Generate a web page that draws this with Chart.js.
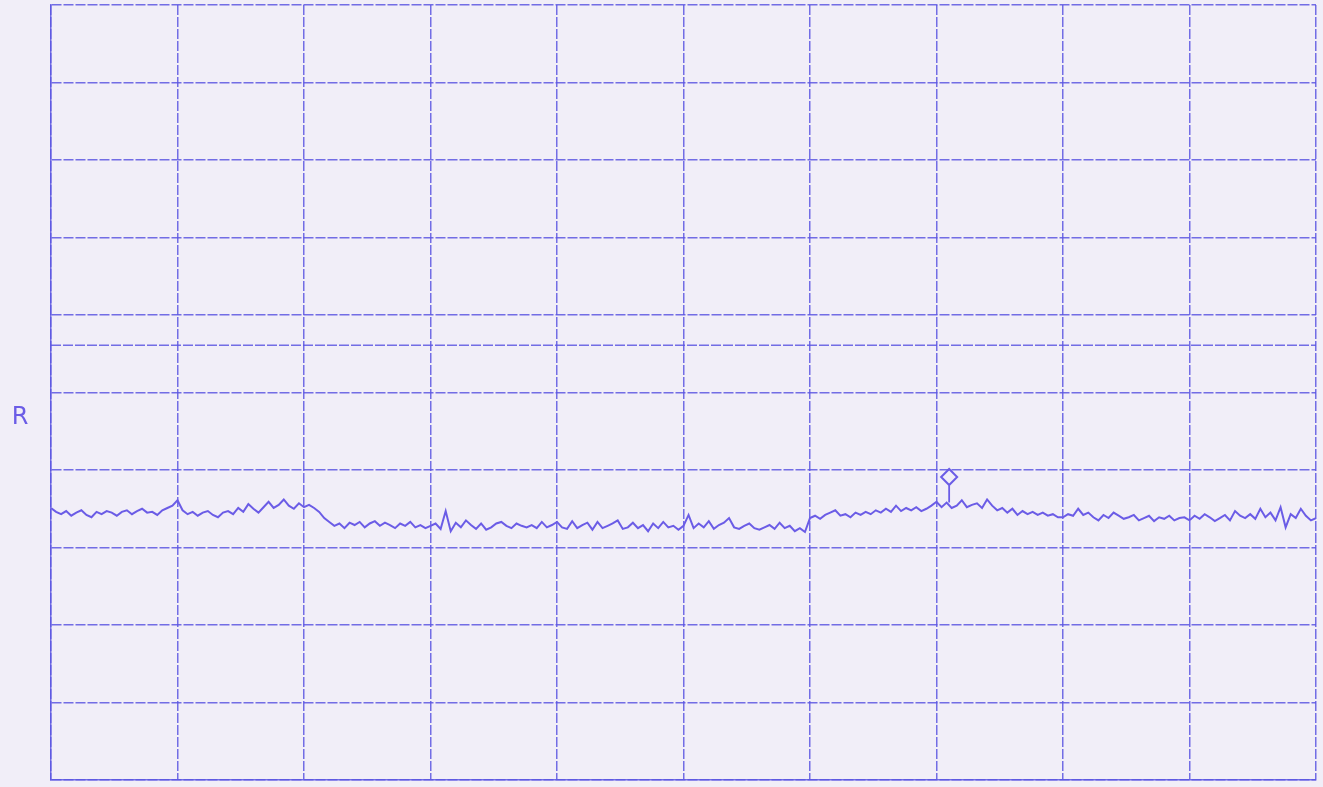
<!DOCTYPE html>
<html>
<head>
<meta charset="utf-8">
<script src="https://cdn.jsdelivr.net/npm/chart.js@4"></script>
<style>
  html, body { margin: 0; padding: 0; background: #f1eef8; overflow: hidden; }
  #wrap { width: 1326px; height: 795px; position: absolute; left: 0; top: -5px; }
</style>
</head>
<body>
<div id="wrap"><canvas id="plot"></canvas></div>
<script>
// sweep position (0..1000 across the screen), 4 units per sample
const sweepStep = 4;
// trace level in dB, reference level = 0 dB at the top, 10 dB/div
const trace = [
  -64.9,-65.4,-65.7,-65.3,-65.9,-65.5,-65.2,-65.8,-66.1,-65.4,-65.7,-65.3,-65.5,-65.9,-65.4,-65.2,-65.7,-65.3,-65.0,-65.5,-65.4,-65.8,-65.2,-64.9,-64.6,
  -63.9,-65.2,-65.7,-65.4,-65.9,-65.5,-65.3,-65.8,-66.1,-65.5,-65.3,-65.7,-64.9,-65.4,-64.4,-65.0,-65.5,-64.8,-64.1,-64.9,-64.5,-63.8,-64.6,-65.0,-64.3,
  -64.8,-64.5,-64.9,-65.4,-66.2,-66.7,-67.2,-66.9,-67.5,-66.8,-67.1,-66.7,-67.4,-66.9,-66.6,-67.2,-66.8,-67.1,-67.5,-66.9,-67.2,-66.7,-67.4,-67.1,-67.5,
  -67.2,-66.9,-67.6,-65.3,-67.9,-66.8,-67.4,-66.5,-67.1,-67.6,-66.9,-67.7,-67.4,-66.9,-66.7,-67.2,-67.5,-66.9,-67.2,-67.4,-67.1,-67.5,-66.7,-67.4,-67.1,
  -66.7,-67.4,-67.6,-66.6,-67.5,-67.1,-66.8,-67.7,-66.7,-67.5,-67.2,-66.9,-66.5,-67.6,-67.4,-66.8,-67.5,-67.1,-67.9,-66.9,-67.5,-66.7,-67.4,-67.2,-67.7,
  -67.2,-65.8,-67.5,-66.9,-67.4,-66.6,-67.6,-67.1,-66.8,-66.2,-67.4,-67.6,-67.2,-66.9,-67.5,-67.7,-67.4,-67.1,-67.6,-66.8,-67.5,-67.2,-67.9,-67.5,-68.0,
  -66.2,-65.9,-66.3,-65.8,-65.5,-65.2,-65.9,-65.7,-66.1,-65.5,-65.8,-65.4,-65.7,-65.2,-65.5,-65.0,-65.4,-64.6,-65.3,-64.9,-65.2,-64.8,-65.3,-65.0,-64.6,
  -64.1,-64.8,-64.2,-64.9,-64.6,-63.9,-64.8,-64.5,-64.3,-64.9,-63.8,-64.6,-65.2,-64.9,-65.5,-65.0,-65.8,-65.3,-65.7,-65.4,-65.8,-65.5,-65.9,-65.7,-66.1,
  -66.1,-65.7,-65.9,-65.0,-65.8,-65.5,-66.1,-66.5,-65.8,-66.2,-65.5,-65.9,-66.3,-66.1,-65.8,-66.5,-66.2,-65.9,-66.6,-66.1,-66.3,-65.9,-66.5,-66.2,-66.1,
  -66.5,-65.9,-66.3,-65.7,-66.1,-66.6,-66.2,-65.8,-66.5,-65.3,-65.9,-66.2,-65.7,-66.3,-65.0,-66.1,-65.5,-66.5,-64.8,-67.4,-65.7,-66.2,-65.0,-65.9,-66.5,-66.2
];
// marker: position, diamond level, foot of the stem
const markerX = 710;
const markerLevel = -60.9;
const markerStem = [-62.0, -64.2];
// extra reference line and the "R" label level
const refLine = -43.9;
const refLabel = "R";
const refLabelLevel = -53.2;

const ink = "#6b5ce6";
const gridInk = "rgba(92, 86, 226, 0.85)";

const tracePoints = trace.map((v, i) => ({ x: i * sweepStep, y: v }));

const overlay = {
  id: "overlay",
  afterDraw(chart) {
    const { ctx, chartArea, scales } = chart;
    const y = scales.y.getPixelForValue(refLine);
    ctx.save();
    ctx.strokeStyle = gridInk;
    ctx.lineWidth = 1.5;
    ctx.setLineDash([10, 2]);
    ctx.beginPath();
    ctx.moveTo(chartArea.left, y);
    ctx.lineTo(chartArea.right, y);
    ctx.stroke();
    ctx.setLineDash([]);
    ctx.fillStyle = ink;
    ctx.font = "24px 'DejaVu Sans'";
    ctx.textAlign = "center";
    ctx.textBaseline = "middle";
    ctx.fillText(refLabel, 20, scales.y.getPixelForValue(refLabelLevel));
    ctx.restore();
  }
};

new Chart(document.getElementById("plot"), {
  type: "line",
  data: {
    datasets: [
      {
        data: tracePoints,
        borderColor: ink,
        borderWidth: 2,
        pointRadius: 0,
        tension: 0
      },
      {
        data: [{ x: markerX, y: markerStem[0] }, { x: markerX, y: markerStem[1] }],
        borderColor: ink,
        borderWidth: 1.8,
        pointRadius: 0
      },
      {
        data: [{ x: markerX, y: markerLevel }],
        showLine: false,
        pointStyle: "rectRot",
        pointRadius: 8,
        pointBorderWidth: 2,
        pointBorderColor: ink,
        pointBackgroundColor: "rgba(0,0,0,0)"
      }
    ]
  },
  options: {
    responsive: true,
    maintainAspectRatio: false,
    animation: false,
    layout: { padding: { left: 51, right: 3, top: 0, bottom: 3 } },
    plugins: { legend: { display: false }, tooltip: { enabled: false } },
    scales: {
      x: {
        type: "linear",
        min: 0,
        max: 1000,
        ticks: { display: false, stepSize: 100 },
        grid: { color: gridInk, lineWidth: 1.5, drawTicks: false },
        border: { color: gridInk, width: 1.5, dash: [10, 2] }
      },
      y: {
        min: -100,
        max: 0,
        ticks: { display: false, stepSize: 10 },
        grid: { color: gridInk, lineWidth: 1.5, drawTicks: false },
        border: { color: gridInk, width: 1.5, dash: [10, 2] }
      }
    }
  },
  plugins: [overlay]
});
</script>
</body>
</html>
